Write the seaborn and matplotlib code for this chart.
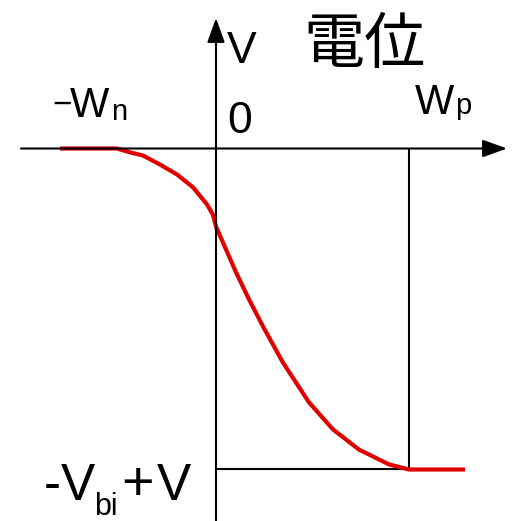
import matplotlib
matplotlib.use("Agg")
import matplotlib.pyplot as plt
import seaborn as sns
import pandas as pd

sns.set_style("white")
plt.rcParams["font.family"] = ["Liberation Sans", "Noto Sans CJK JP", "DejaVu Sans"]

# Potential across the depletion region (x in units of Wp, V in units of Vbi - V)
position = [-0.808, -0.513, -0.446, -0.378, -0.290, -0.202, -0.119, -0.047, -0.016, 0.0,
            0.052, 0.104, 0.171, 0.244, 0.347, 0.482, 0.606, 0.741, 0.896,
            1.0, 1.29]
potential = [0.0, 0.0, -0.012, -0.022, -0.050, -0.081, -0.121, -0.174, -0.206, -0.243,
             -0.315, -0.386, -0.470, -0.555, -0.667, -0.791, -0.875, -0.938, -0.984,
             -1.0, -1.0]
edge_p = 1.0
level_bottom = -1.0

df = pd.DataFrame({"x": position, "V": potential})

W, H = 514, 521
fig = plt.figure(figsize=(W / 100, H / 100), dpi=100)
ax = fig.add_axes([0, 0, 1, 1])

# pixel-to-data mapping of the drawing area
x0_px, x_scale = 216, 193
y0_px, y_scale = 148.5, 321
ax.set_xlim(-x0_px / x_scale, (W - x0_px) / x_scale)
ax.set_ylim(-(H - y0_px) / y_scale, y0_px / y_scale)
ax.axis("off")

# coordinate axes with arrows
arrow = dict(arrowstyle="-|>,head_length=1.0,head_width=0.36", color="black",
             lw=1.5, mutation_scale=15, shrinkA=0, shrinkB=0)
ax.annotate("", xy=((507 - x0_px) / x_scale, 0), xytext=((21 - x0_px) / x_scale, 0),
            arrowprops=arrow)
ax.annotate("", xy=(0, (y0_px - 18) / y_scale), xytext=(0, -(H - y0_px) / y_scale),
            arrowprops=arrow)

# boundary of the p-side and bottom level
ax.plot([edge_p, edge_p], [0, level_bottom], color="black", lw=1.5)
ax.plot([0, edge_p], [level_bottom, level_bottom], color="black", lw=1.5)

sns.lineplot(data=df, x="x", y="V", ax=ax, color="#e00000", lw=3.0, sort=False)
for ln in ax.get_lines():
    ln.set_solid_joinstyle("round")
    ln.set_solid_capstyle("butt")


def label(px, py, s, size):
    ax.text(px / W, 1 - py / H, s, transform=ax.transAxes, fontsize=size,
            ha="left", va="baseline", color="black")


# -Wn
label(52, 114, "\u2212", 24)
label(70, 117, "W", 30)
label(111, 120, "n", 21)
# 0
label(227, 133, "0", 32)
# Wp
label(415, 114, "W", 30)
label(455, 114, "p", 21)
# axis name
label(227, 63, "V", 32)
label(303, 63, "電位", 44)
# -Vbi+V
label(44, 500, "-", 37)
label(61, 500, "V", 37)
label(94, 515, "bi", 22)
label(121, 500, "+", 40)
label(157, 500, "V", 37)

fig.savefig("out.png", dpi=100)
